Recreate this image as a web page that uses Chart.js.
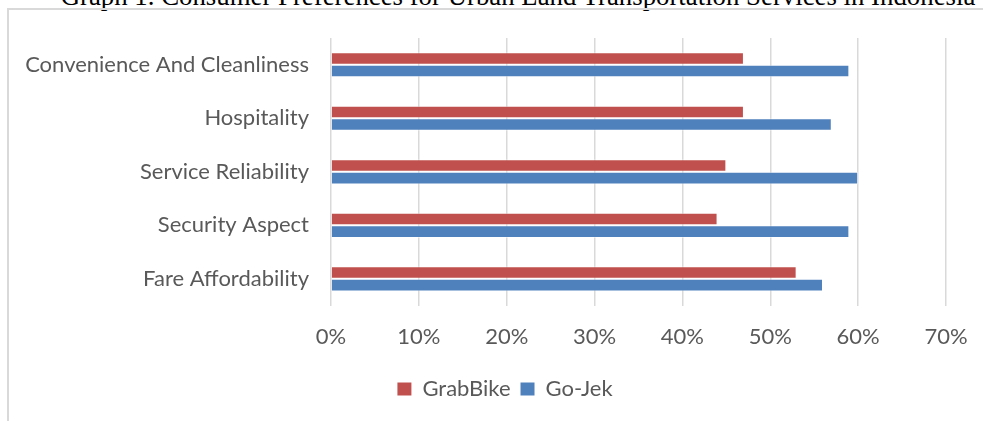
<!DOCTYPE html>
<html>
<head>
<meta charset="utf-8">
<script src="https://cdn.jsdelivr.net/npm/chart.js@4/dist/chart.umd.min.js"></script>
<style>
  html, body { margin: 0; padding: 0; width: 983px; height: 421px; overflow: hidden; background: #fff; }
  #title { position: absolute; left: 0; top: -17.5px; width: 1036px; text-align: center; font-family: "Liberation Serif", "Times New Roman", serif; font-size: 26.8px; line-height: 26.8px; color: #000; white-space: nowrap; }
  #frame { position: absolute; left: 7px; top: 8px; width: 1100px; height: 500px; border-left: 2px solid #d9d9d9; border-top: 2px solid #d9d9d9; box-sizing: border-box; }
  #wrap { position: absolute; left: 0; top: 0; }
</style>
</head>
<body>
<div id="title">Graph 1. Consumer Preferences for Urban Land Transportation Services in Indonesia</div>
<div id="frame"></div>
<div id="wrap"><canvas id="c" width="1013" height="421"></canvas></div>
<script>
const categories = ["Convenience And Cleanliness", "Hospitality", "Service Reliability", "Security Aspect", "Fare Affordability"];
const grabBike = [47, 47, 45, 44, 53];
const goJek = [59, 57, 60, 59, 56];
const xTicks = [0, 10, 20, 30, 40, 50, 60, 70];

const FONT = "Lato, 'Open Sans', sans-serif";
const TXT = "#595959";

new Chart(document.getElementById('c'), {
  type: 'bar',
  data: {
    labels: categories,
    datasets: [
      { label: 'GrabBike', data: grabBike, backgroundColor: '#C0504D', borderColor: 'rgba(255,255,255,0.5)', borderWidth: 1, categoryPercentage: 0.47, barPercentage: 1.0 },
      { label: 'Go-Jek', data: goJek, backgroundColor: '#4F81BD', borderColor: 'rgba(255,255,255,0.5)', borderWidth: 1, categoryPercentage: 0.47, barPercentage: 1.0 }
    ]
  },
  options: {
    indexAxis: 'y',
    responsive: false,
    animation: false,
    layout: { padding: { left: 9, right: 12, top: 38, bottom: 11 } },
    plugins: {
      title: { display: false },
      tooltip: { enabled: false },
      legend: {
        position: 'bottom',
        labels: {
          font: { family: FONT, size: 22 }, color: TXT, boxWidth: 14, boxHeight: 13, padding: 10,
          generateLabels: chart => Chart.defaults.plugins.legend.labels.generateLabels(chart).map(it => Object.assign(it, { lineWidth: 0 }))
        }
      }
    },
    scales: {
      x: {
        min: 0, max: 70,
        afterBuildTicks: s => { s.ticks = xTicks.map(v => ({ value: v })); },
        ticks: { callback: v => v + '%', font: { family: FONT, size: 22 }, color: TXT, padding: 18 },
        grid: { color: '#d9d9d9', lineWidth: 1.5, drawTicks: false },
        border: { display: false }
      },
      y: {
        afterFit: s => { s.width = 322; },
        ticks: { font: { family: FONT, size: 22 }, color: TXT, padding: 22 },
        grid: { display: false, drawTicks: false },
        border: { display: false }
      },
      yRight: {
        type: 'category',
        axis: 'y',
        position: 'right',
        afterFit: s => { s.width = 55; },
        ticks: { display: false },
        grid: { display: false, drawTicks: false },
        border: { display: false }
      }
    }
  }
});
</script>
</body>
</html>
